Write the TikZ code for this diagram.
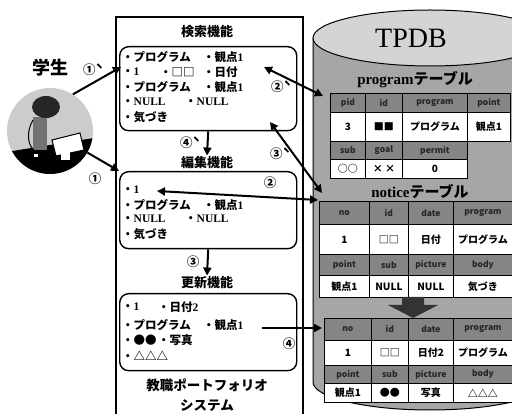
\documentclass[tikz,border=0pt]{standalone}
\usepackage{fontspec}
\setmainfont{Liberation Serif}
\newfontfamily\jp{Noto Sans CJK JP}
\usetikzlibrary{arrows.meta}
\newcommand\rb[1]{{\rmfamily\bfseries #1}}
\tikzset{
  funcbox/.style={draw, line width=1.4pt, rounded corners=9pt, anchor=north west, minimum width=177pt},
  ttl/.style={font=\jp\bfseries\fontsize{13}{13}\selectfont, inner sep=1pt},
  item/.style={anchor=west, inner sep=0pt, font=\jp\bfseries\fontsize{11.5}{11.5}\selectfont},
  num/.style={font=\jp\bfseries\fontsize{12.5}{12.5}\selectfont, inner sep=0pt},
  arr/.style={line width=2pt, -{Triangle[length=8pt,width=8pt]}},
  darr/.style={line width=2pt, {Triangle[length=8pt,width=8pt]}-{Triangle[length=8pt,width=8pt]}},
  hdr/.style={draw, line width=0.8pt, fill=black!48, text=black!85, anchor=north west, inner sep=0pt,
    font=\jp\bfseries\fontsize{8.5}{8.5}\selectfont},
  cell/.style={draw, line width=0.8pt, fill=white, anchor=north west, inner sep=0pt,
    font=\jp\bfseries\fontsize{10}{10}\selectfont},
}
\begin{document}
\begin{tikzpicture}[x=1pt, y=-1pt]
\useasboundingbox (0,0) rectangle (512,414);
\clip (0,0) rectangle (512,414);

% database drum
\fill[black!35] (313,38) -- (313,382) arc[start angle=180, end angle=360, x radius=117pt, y radius=28pt] -- (547,38) -- cycle;
\draw[line width=1pt] (313,38) -- (313,382) arc[start angle=180, end angle=360, x radius=117pt, y radius=28pt];
\draw[line width=1pt, fill=black!17] (430,38) ellipse [x radius=117pt, y radius=28pt];
\node[font=\fontsize{28}{28}\selectfont] (tpdb) at (411,38) {TPDB};
\node[font=\bfseries\fontsize{15}{15}\selectfont] (ptab) at (415,80) {program{\jp テーブル}};
\node[font=\bfseries\fontsize{15}{15}\selectfont] (ntab) at (420,192) {notice{\jp テーブル}};

% program table
\foreach \x/\w/\t [count=\i] in {330/35/pid, 365/37/id, 402/65/program, 467/43/point}
  \node[hdr, minimum width=\w pt, minimum height=19pt] (ph\i) at (\x,93) {\t};
\foreach \x/\w/\t [count=\i] in {330/35/3, 365/37/■■, 402/65/プログラム, 467/43/観点1}
  \node[cell, minimum width=\w pt, minimum height=29pt] (pd\i) at (\x,112) {\t};
\foreach \x/\w/\t [count=\i] in {330/35/sub, 365/37/goal, 402/65/permit}
  \node[hdr, minimum width=\w pt, minimum height=18pt] (pg\i) at (\x,141) {\t};
\foreach \x/\w/\t [count=\i] in {330/35/○○, 365/37/× ×, 402/65/0}
  \node[cell, minimum width=\w pt, minimum height=19pt] (pe\i) at (\x,159) {\t};

% notice table, before
\foreach \x/\w/\t [count=\i] in {319/50/no, 369/39/id, 408/45/date, 453/59/program}
  \node[hdr, minimum width=\w pt, minimum height=23pt] (nh\i) at (\x,201) {\t};
\foreach \x/\w/\t [count=\i] in {319/50/1, 369/39/□□, 408/45/日付, 453/59/プログラム}
  \node[cell, minimum width=\w pt, minimum height=30pt] (nd\i) at (\x,224) {\t};
\foreach \x/\w/\t [count=\i] in {319/50/point, 369/39/sub, 408/45/picture, 453/59/body}
  \node[hdr, minimum width=\w pt, minimum height=21pt] (ng\i) at (\x,254) {\t};
\foreach \x/\w/\t [count=\i] in {319/50/観点1, 369/39/NULL, 408/45/NULL, 453/59/気づき}
  \node[cell, minimum width=\w pt, minimum height=22pt] (ne\i) at (\x,275) {\t};

\fill[black!80] (402,297) -- (424,297) -- (424,305) -- (438,305) -- (413,318) -- (388,305) -- (402,305) -- cycle;

% notice table, after
\foreach \x/\w/\t [count=\i] in {324/47/no, 371/37/id, 408/45/date, 453/59/program}
  \node[hdr, minimum width=\w pt, minimum height=22pt] (mh\i) at (\x,318) {\t};
\foreach \x/\w/\t [count=\i] in {324/47/1, 371/37/□□, 408/45/日付2, 453/59/プログラム}
  \node[cell, minimum width=\w pt, minimum height=25pt] (md\i) at (\x,340) {\t};
\foreach \x/\w/\t [count=\i] in {324/47/point, 371/37/sub, 408/45/picture, 453/59/body}
  \node[hdr, minimum width=\w pt, minimum height=18pt] (mg\i) at (\x,365) {\t};
\foreach \x/\w/\t [count=\i] in {324/47/観点1, 371/37/●●, 408/45/写真, 453/59/△△△}
  \node[cell, minimum width=\w pt, minimum height=19pt] (me\i) at (\x,383) {\t};

% portfolio system
\draw[line width=1.3pt] (116,430) -- (116,17) -- (303,17) -- (303,430);
\node[ttl] (t1) at (207,32) {検索機能};
\node[funcbox, minimum height=84pt] (kensaku) at (119,46) {};
\node[item] (k1a) at (122,57) {・プログラム};
\node[item] (k1b) at (203,57) {・観点\rb{1}};
\node[item] (k2a) at (122,72) {・\rb{1}};
\node[item] (k2b) at (160,72) {・□□};
\node[item] (k2c) at (203,72) {・日付};
\node[item] (k3a) at (122,87) {・プログラム};
\node[item] (k3b) at (203,87) {・観点\rb{1}};
\node[item] (k4a) at (122,102) {・\rb{NULL}};
\node[item] (k4b) at (185,102) {・\rb{NULL}};
\node[item] (k5a) at (122,117) {・気づき};

\node[ttl] (t2) at (207,163) {編集機能};
\node[funcbox, minimum height=77pt] (henshu) at (119,171) {};
\node[item] (h1a) at (122,190) {・\rb{1}};
\node[item] (h2a) at (122,205) {・プログラム};
\node[item] (h2b) at (203,205) {・観点\rb{1}};
\node[item] (h3a) at (122,219) {・\rb{NULL}};
\node[item] (h3b) at (185,219) {・\rb{NULL}};
\node[item] (h4a) at (122,234) {・気づき};

\node[ttl] (t3) at (207,283) {更新機能};
\node[funcbox, minimum height=77pt] (koshin) at (119,293) {};
\node[item] (u1a) at (122,307) {・\rb{1}};
\node[item] (u1b) at (158,307) {・日付\rb{2}};
\node[item] (u2a) at (122,325) {・プログラム};
\node[item] (u2b) at (203,325) {・観点\rb{1}};
\node[item] (u3a) at (122,340) {・●●};
\node[item] (u3b) at (158,340) {・写真};
\node[item] (u4a) at (122,356) {・△△△};

\node[ttl, font=\jp\bfseries\fontsize{13.5}{13.5}\selectfont] (t4) at (207,385) {教職ポートフォリオ};
\node[ttl, font=\jp\bfseries\fontsize{13.5}{13.5}\selectfont] (t5) at (207,406) {システム};

% student
\node[font=\jp\bfseries\fontsize{18}{18}\selectfont] (gakusei) at (50,68) {学生};
\node[circle, fill=black!20, minimum size=86pt, inner sep=0pt] (student) at (50,131) {};
\begin{scope}
  \clip (50,131) circle [radius=43pt];
  \fill[black] (0,153) -- (100,137) -- (100,180) -- (0,180) -- cycle;
  \fill[black!55] (33,117) rectangle (47,150);
  \draw[line width=1pt] (33,120) .. controls (26,132) and (27,146) .. (36,152);
  \fill[black!85] (46,107) ellipse [x radius=14pt, y radius=11pt];
  \draw[line width=1pt, fill=white] (52,140) -- (80,133) -- (84,150) -- (56,156) -- cycle;
  \fill[white] (61,152) rectangle (70,160);
  \fill[white] (34,154) rectangle (38,157);
\end{scope}

% connectors
\coordinate (k-in) at (121,67);
\coordinate (k-r) at (264,67);
\coordinate (k-b) at (270,122);
\coordinate (h-in) at (157,191);
\coordinate (u-r) at (262,328);
\coordinate (p-in) at (323,96);
\coordinate (n-in) at (322,193);
\coordinate (n-side) at (318,200);
\coordinate (m-in) at (322,328);

\draw[arr] (student.58) -- (k-in);
\draw[arr] (student.-30) -- (henshu.north west);
\draw[arr] (kensaku.south) -- (t2.north);
\draw[arr] (henshu.south) -- (t3.north);
\draw[darr] (k-r) -- (p-in);
\draw[darr] (k-b) -- (n-in);
\draw[darr] (h-in) -- (n-side);
\draw[arr] (u-r) -- (m-in);

\node[num] (c1d) at (93,70) {①ˋ};
\node[num] (c1) at (95,179) {①};
\node[num] (c2d) at (281,87) {②ˋ};
\node[num] (c3d) at (280,154) {③ˋ};
\node[num] (c2) at (270,183) {②};
\node[num] (c4d) at (190,143) {④ˋ};
\node[num] (c3) at (193,262) {③};
\node[num] (c4) at (289,344) {④};
\end{tikzpicture}
\end{document}
